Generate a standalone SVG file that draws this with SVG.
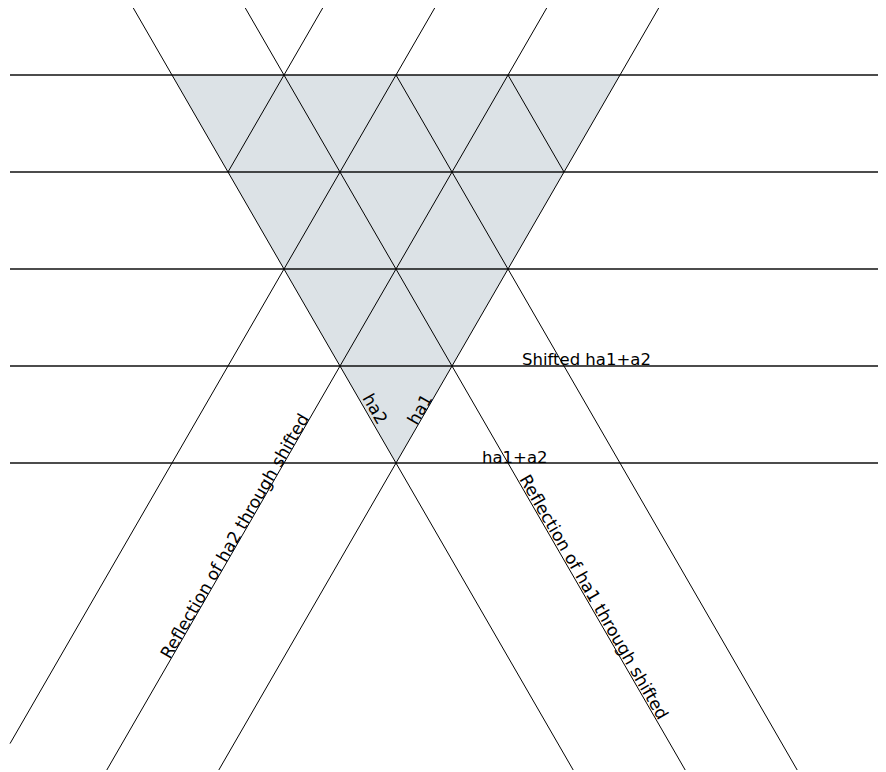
<svg xmlns="http://www.w3.org/2000/svg" width="886" height="772" viewBox="0 0 886 772">
<style>
.h{stroke:#111;stroke-width:1.3;fill:none}
.d{stroke:#000;stroke-width:1;fill:none}
.t{font-family:"DejaVu Sans",sans-serif;font-size:16.5px;fill:#000}
.r{font-family:"DejaVu Sans",sans-serif;font-size:17px;fill:#000}
</style>
<rect width="886" height="772" fill="#fff"/>
<g id="region">
<polygon points="172,75 620,75 396,463" fill="#dce2e6"/>
</g>
<g id="lines">
<line class="h" x1="10" y1="75" x2="878" y2="75"/>
<line class="h" x1="10" y1="172" x2="878" y2="172"/>
<line class="h" x1="10" y1="269" x2="878" y2="269"/>
<line class="h" x1="10" y1="366" x2="878" y2="366"/>
<line class="h" x1="10" y1="463" x2="878" y2="463"/>
<line class="d" x1="658.7" y1="8" x2="218.8" y2="770"/>
<line class="d" x1="546.7" y1="8" x2="106.8" y2="770"/>
<line class="d" x1="434.7" y1="8" x2="10" y2="743.6"/>
<line class="d" x1="322.7" y1="8" x2="228" y2="172"/>
<line class="d" x1="133.3" y1="8" x2="573.2" y2="770"/>
<line class="d" x1="245.3" y1="8" x2="685.2" y2="770"/>
<line class="d" x1="396" y1="75" x2="797.2" y2="770"/>
<line class="d" x1="508" y1="75" x2="564" y2="172"/>
</g>
<g id="labels">
<text class="t" x="522" y="365">Shifted ha1+a2</text>
<text class="t" x="482" y="463">ha1+a2</text>
<text class="r" transform="translate(362,398) rotate(60)">ha2</text>
<text class="r" transform="translate(417,426) rotate(-60)">ha1</text>
<text class="r" transform="translate(170,660) rotate(-60)">Reflection of ha2 through shifted</text>
<text class="r" transform="translate(519,479) rotate(60)">Reflection of ha1 through shifted</text>
</g>
</svg>
